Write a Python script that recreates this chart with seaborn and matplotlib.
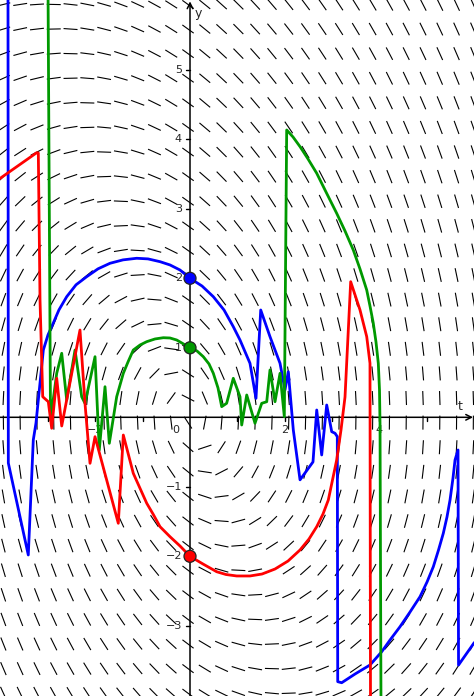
import numpy as np
import pandas as pd
import seaborn as sns
import matplotlib.pyplot as plt
from matplotlib.collections import LineCollection

# view window (data units) and pixel scale of the reference
x_min, x_max = -4.017, 6.004
y_min, y_max = -4.010, 6.004
px_per_t = 47.3
px_per_y = 69.5

# slope field dy/dt = -t/y - 1/2 sampled on a 29 x 29 grid
t_grid = np.linspace(-3.945, 5.99, 29)
y_grid = np.linspace(-3.97, 5.94, 29)
seg_px = 14.0

# numerical solution traces
blue_t = [-3.848, -3.841, -3.419, -3.313, -3.256, -3.101, -3.002, -2.890, -2.770, -2.607,
          -2.410, -2.184, -1.945, -1.691, -1.416, -1.127, -0.888, -0.634, -0.423, -0.211,
          0.0, 0.254, 0.493, 0.719, 0.915, 1.057, 1.268, 1.395, 1.495, 1.691,
          1.903, 2.008, 2.078, 2.184, 2.326, 2.600, 2.679, 2.784, 2.890, 2.996,
          3.066, 3.114, 3.123, 3.207, 3.488, 3.805, 4.053, 4.228, 4.440, 4.651,
          4.863, 5.011, 5.144, 5.254, 5.355, 5.433, 5.497, 5.560, 5.603, 5.666,
          5.677, 6.004, 6.131]
blue_y = [6.2, -0.658, -1.981, -0.325, -0.082, 0.968, 1.186, 1.357, 1.546, 1.735,
          1.906, 2.023, 2.136, 2.216, 2.265, 2.288, 2.279, 2.239, 2.192, 2.119,
          2.0, 1.889, 1.735, 1.544, 1.304, 1.112, 0.777, 0.273, 1.544, 1.160,
          0.777, 0.393, 0.656, -0.183, -0.900, -0.642, 0.105, -0.542, 0.177, -0.207,
          -0.230, -0.279, -3.804, -3.819, -3.694, -3.564, -3.373, -3.205, -3.013, -2.802,
          -2.581, -2.370, -2.150, -1.909, -1.669, -1.434, -1.191, -0.873, -0.614, -0.470,
          -3.564, -3.247, -3.175]

green_t = [-3.002, -2.949, -2.818, -2.712, -2.607, -2.431, -2.290, -2.220, -2.008, -1.918,
           -1.797, -1.706, -1.550, -1.410, -1.311, -1.199, -1.057, -0.915, -0.740, -0.564,
           -0.423, -0.281, 0.0, 0.148, 0.281, 0.402, 0.493, 0.592, 0.670, 0.774,
           0.915, 1.057, 1.093, 1.199, 1.374, 1.516, 1.622, 1.691, 1.797, 1.903,
           1.994, 2.044, 2.178, 2.326, 2.495, 2.679, 2.875, 3.101, 3.277, 3.452,
           3.594, 3.736, 3.805, 3.875, 3.932, 3.981, 4.006, 4.017, 4.038]
green_y = [6.2, -0.039, 0.633, 0.921, 0.249, 0.968, 0.296, 0.201, 0.872, -0.471,
           0.440, -0.374, 0.296, 0.633, 0.796, 0.968, 1.040, 1.088, 1.127, 1.145,
           1.141, 1.112, 1.0, 0.954, 0.872, 0.767, 0.633, 0.422, 0.153, 0.201,
           0.561, 0.296, -0.111, 0.321, -0.086, 0.201, 0.224, 0.681, 0.224, 0.633,
           0.009, 4.134, 4.033, 3.894, 3.717, 3.511, 3.242, 2.935, 2.681, 2.407,
           2.134, 1.831, 1.602, 1.353, 1.083, 0.777, 0.393, -0.086, -4.21]

red_t = [-4.123, -3.241, -3.207, -3.171, -3.114, -2.996, -2.924, -2.818, -2.712, -2.326,
         -2.220, -2.114, -2.008, -1.516, -1.410, -1.199, -0.915, -0.782, -0.634, -0.423,
         -0.211, 0.0, 0.275, 0.564, 0.761, 0.987, 1.268, 1.522, 1.797, 2.072,
         2.326, 2.516, 2.679, 2.812, 2.924, 3.101, 3.192, 3.277, 3.397, 3.594,
         3.736, 3.805, 3.816]
red_y = [3.386, 3.807, 3.803, 1.688, 0.296, 0.224, -0.158, 0.561, -0.125, 1.256,
         0.201, -0.662, -0.279, -1.525, -0.255, -0.806, -1.237, -1.391, -1.574, -1.718,
         -1.852, -2.0, -2.111, -2.222, -2.262, -2.283, -2.283, -2.255, -2.183, -2.068,
         -1.909, -1.751, -1.574, -1.391, -1.190, -0.614, -0.183, 0.292, 1.951, 1.544,
         1.160, 0.777, -4.21]

# initial points
dot_t = [0, 0, 0]
dot_y = [2, 1, -2]
dot_names = ['blue', 'green', 'red']
colors = {'blue': '#0000ff', 'green': '#009900', 'red': '#ff0000'}

x_labels = [-2, 0, 2, 4]
x_ticks = [-3, -2, -1, 1, 2, 3, 4, 5]
y_ticks = [-3, -2, -1, 1, 2, 3, 4, 5]

sns.set_style('white')
plt.rcParams['font.family'] = ['DejaVu Sans']

fig = plt.figure(figsize=(4.74, 6.96), dpi=100)
ax = fig.add_axes([0, 0, 1, 1])
ax.set_xlim(x_min, x_max)
ax.set_ylim(y_min, y_max)
ax.set_axis_off()

# slope field segments with constant on-screen length
T, Y = np.meshgrid(t_grid, y_grid)
F = -T / Y - 0.5
screen_slope = F * px_per_y / px_per_t
half_dx_px = 0.5 * seg_px / np.sqrt(1 + screen_slope ** 2)
dt = half_dx_px / px_per_t
dy = F * dt
segs = np.stack([np.stack([T - dt, Y - dy], axis=-1),
                 np.stack([T + dt, Y + dy], axis=-1)], axis=-2).reshape(-1, 2, 2)
ax.add_collection(LineCollection(segs, colors='black', linewidths=0.8, zorder=1))

# axes with arrows
ax.annotate('', xy=(x_max - 0.02, 0), xytext=(x_min, 0),
            arrowprops=dict(arrowstyle='->', lw=1.1, color='black', shrinkA=0, shrinkB=0),
            zorder=2)
ax.annotate('', xy=(0, y_max - 0.02), xytext=(0, y_min),
            arrowprops=dict(arrowstyle='->', lw=1.1, color='black', shrinkA=0, shrinkB=0),
            zorder=2)

tick_dt = 4 / px_per_t
tick_dy = 4 / px_per_y
for t in x_ticks:
    ax.plot([t, t], [0, -tick_dy], color='black', lw=1.0, zorder=2)
for yv in y_ticks:
    ax.plot([-tick_dt, 0], [yv, yv], color='black', lw=1.0, zorder=2)

fs = 8
for t in x_labels:
    lab = '0' if t == 0 else str(t).replace('-', '\u2212')
    xpos = -14 / px_per_t if t == 0 else t
    ax.text(xpos, -13 / px_per_y, lab, ha='center', va='center', fontsize=fs, zorder=2)
for yv in y_ticks:
    ax.text(-8 / px_per_t, yv, str(yv).replace('-', '\u2212'), ha='right', va='center',
            fontsize=fs, zorder=2)
ax.text(5.72, 10.5 / px_per_y, 't', ha='center', va='center', fontsize=9, zorder=2)
ax.text(8.5 / px_per_t, 5.81, 'y', ha='center', va='center', fontsize=9, zorder=2)

# solution curves
for name, tt, yy in [('blue', blue_t, blue_y), ('green', green_t, green_y), ('red', red_t, red_y)]:
    sns.lineplot(x=tt, y=yy, sort=False, estimator=None, color=colors[name],
                 linewidth=2.0, ax=ax, zorder=3)

sns.scatterplot(x=dot_t, y=dot_y, hue=dot_names, palette=colors, s=75,
                edgecolor='#222222', linewidth=0.9, legend=False, ax=ax, zorder=5)

ax.set_xlim(x_min, x_max)
ax.set_ylim(y_min, y_max)
fig.savefig('out.png', dpi=100)
